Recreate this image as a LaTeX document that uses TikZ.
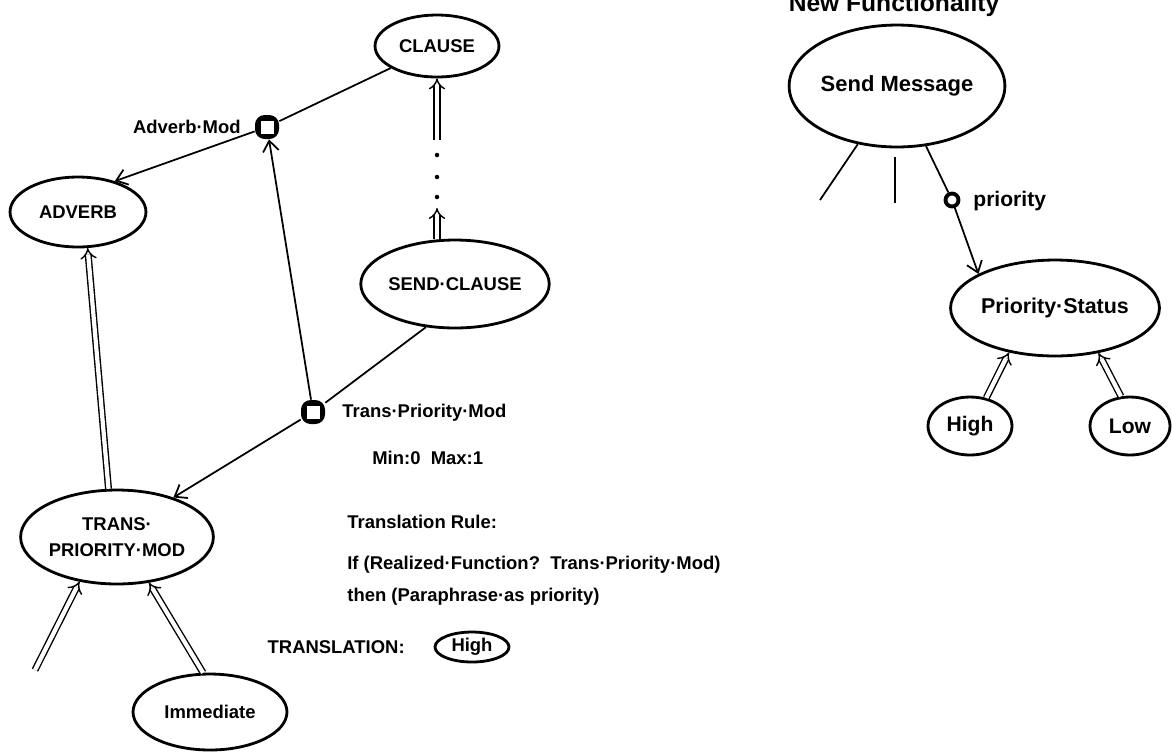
\documentclass[tikz,border=0pt]{standalone}
\usepackage{fontspec}
\setmainfont{Liberation Sans}
\usetikzlibrary{shapes.geometric,arrows.meta}
\begin{document}
\begin{tikzpicture}[x=0.02cm,y=-0.02cm,
  every node/.style={font=\bfseries},
  ell/.style={draw, ellipse, line width=1.6pt, inner sep=0pt},
  E/.style 2 args={ell, minimum width=#1*0.04cm, minimum height=#2*0.04cm},
  fs/.style={font=\bfseries\fontsize{#1}{#1}\selectfont},
  lbl/.style={font=\bfseries\fontsize{10.5}{12}\selectfont, inner sep=0pt},
  conn/.style={line width=1pt},
  arr/.style={line width=1pt, -{Straight Barb[length=6pt,width=9pt]}},
  dbl/.style={double, double distance=2.4pt, line width=0.8pt, -{Implies[scale=1.6]}},
  mk/.style={rectangle, rounded corners=5.5pt, fill=black, minimum size=0.48cm, inner sep=0pt},
  mkin/.style={rectangle, fill=white, minimum size=0.26cm, inner sep=0pt},
  pmk/.style={circle, draw, fill=white, line width=2.2pt, minimum size=0.26cm, inner sep=0pt},
  dotn/.style={circle, fill=black, minimum size=0.09cm, inner sep=0pt}
]
\useasboundingbox (0,0) rectangle (1172,752);

% ---------- left part ----------
\node[E={62}{31}, fs=10.5] (clause) at (437,46) {CLAUSE};
\node[E={68}{35}, fs=10.5] (adverb) at (78,212) {ADVERB};
\node[E={87}{44}, fs=10.5] (sc) at (455,284) {SEND·CLAUSE};
\node[E={96}{47}, font=\bfseries\fontsize{10.5}{15}\selectfont, align=center] (tpm) at (117,537) {TRANS·\\PRIORITY·MOD};
\node[E={77}{38}, fs=10.5] (imm) at (210,712) {Immediate};

\node[mk] (am) at (267,127) {};
\node[mkin] (amin) at (am) {};
\node[lbl, anchor=east] (amlbl) at (241,127) {Adverb·Mod};

\node[mk] (tb) at (313,412) {};
\node[mkin] (tbin) at (tb) {};
\node[lbl, anchor=west] (tblbl) at (342,413) {Trans·Priority·Mod};

\node[lbl, anchor=west] (minmax) at (372,458) {Min:0\ \ Max:1};
\node[lbl, anchor=west] (trule) at (347,522) {Translation Rule:};
\node[lbl, anchor=west, align=left, font=\bfseries\fontsize{10.5}{18}\selectfont] (ifl) at (347,581)
  {If (Realized·Function?\ \ Trans·Priority·Mod)\\then (Paraphrase·as priority)};
\node[lbl, anchor=east] (trans) at (405,647) {TRANSLATION:};
\node[E={37}{15}, fs=10.5] (hi2) at (472,647) {High};

% dots between SEND-CLAUSE and CLAUSE
\coordinate (dtop) at (437,140);
\coordinate (dbot) at (437,208);
\node[dotn] (d1) at (437,155) {};
\node[dotn] (d2) at (437,177) {};
\node[dotn] (d3) at (437,197) {};
\coordinate (f1) at (35,670);

\draw[conn] (clause) -- (am);
\draw[arr] (am) -- (adverb.40);
\draw[arr] (tb) -- (am);
\draw[conn] (sc.236) -- (tb);
\draw[arr] (tb) -- (tpm.35);
\draw[dbl] (tpm.100) -- (adverb.-75);
\draw[dbl] (f1) -- (tpm.230);
\draw[dbl] (imm.100) -- (tpm.-55);
\draw[dbl] (sc.north -| dbot) -- (dbot);
\draw[dbl] (dtop) -- (clause.south);

% ---------- right part ----------
\node[fs=14, anchor=base] (newf) at (894,11) {New Functionality};
\node[E={90}{61}, fs=12.5] (sm) at (897,86) {Send Message};
\node[E={100}{48}, fs=12.2] (ps) at (1055,308) {Priority·Status};
\node[E={42}{29}, fs=12] (hi) at (970,426) {High};
\node[E={40}{29}, fs=12] (low) at (1130,426) {Low};
\node[pmk] (pm) at (952,200) {};
\node[fs=12, anchor=base west, inner sep=0pt] (plbl) at (973,206) {priority};
\coordinate (l1) at (820,200);
\coordinate (l2) at (895,203);

\draw[conn] (sm.236) -- (l1);
\draw[conn] ([yshift=-5pt]sm.south -| l2) -- (l2);
\draw[conn] (sm) -- (pm);
\draw[arr] (pm) -- (ps.156);
\draw[dbl] (hi.60) -- (ps.224);
\draw[dbl] (low.107) -- (ps.314);
\end{tikzpicture}
\end{document}
